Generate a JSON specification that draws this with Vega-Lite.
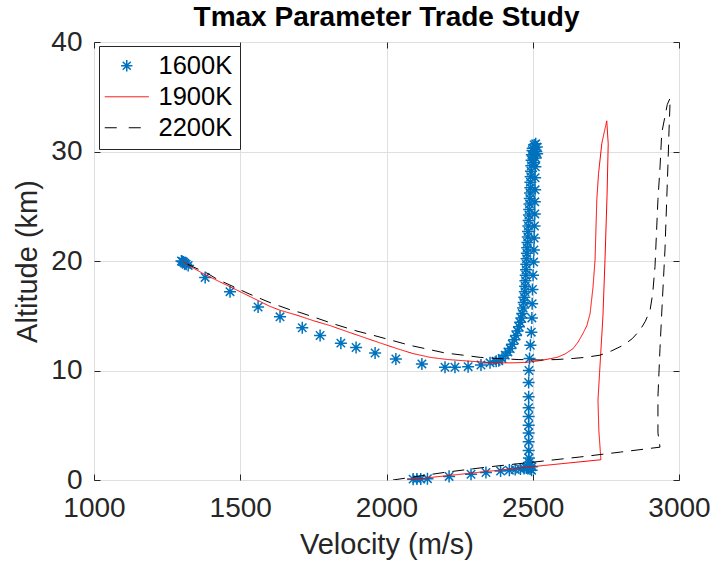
{
  "$schema": "https://vega.github.io/schema/vega-lite/v6.json",
  "width": 585,
  "height": 438,
  "autosize": {"type": "none"},
  "padding": {"left": 94, "top": 42, "right": 34, "bottom": 86},
  "background": "white",
  "title": {
    "text": "Tmax Parameter Trade Study",
    "font": "Liberation Sans",
    "fontSize": 28,
    "fontWeight": "bold",
    "color": "#000000",
    "anchor": "middle",
    "frame": "group",
    "baseline": "alphabetic",
    "offset": -1,
    "dy": 25
  },
  "config": {
    "view": {"stroke": "#262626", "strokeWidth": 1},
    "axis": {
      "labelFont": "Liberation Sans",
      "labelFontSize": 28,
      "labelColor": "#262626",
      "labelFlush": false,
      "titleFont": "Liberation Sans",
      "titleFontSize": 29,
      "titleFontWeight": "normal",
      "titleColor": "#262626",
      "gridColor": "#dfdfdf",
      "gridWidth": 1,
      "tickColor": "#262626",
      "tickSize": -6,
      "domain": false,
      "format": "d"
    }
  },
  "datasets": {
    "t1600": [
      {"v": 2091, "a": 0.08}, {"v": 2104, "a": 0.1}, {"v": 2117, "a": 0.1}, {"v": 2140, "a": 0.12},
      {"v": 2214, "a": 0.33}, {"v": 2289, "a": 0.53}, {"v": 2340, "a": 0.68}, {"v": 2390, "a": 0.82},
      {"v": 2420, "a": 0.9}, {"v": 2440, "a": 0.95}, {"v": 2458, "a": 1.0}, {"v": 2470, "a": 1.05},
      {"v": 2478, "a": 1.1}, {"v": 2485, "a": 1.15}, {"v": 2491, "a": 1.0}, {"v": 2496, "a": 0.9},
      {"v": 2497, "a": 1.2}, {"v": 2489, "a": 1.3},
      {"v": 2487, "a": 1.6}, {"v": 2487, "a": 2.0}, {"v": 2486, "a": 2.7}, {"v": 2486, "a": 3.5},
      {"v": 2486, "a": 4.3}, {"v": 2486, "a": 5.0}, {"v": 2486, "a": 5.8}, {"v": 2486, "a": 6.6},
      {"v": 2486, "a": 7.6}, {"v": 2486, "a": 8.9}, {"v": 2487, "a": 10.0}, {"v": 2489, "a": 11.1},
      {"v": 2492, "a": 12.3}, {"v": 2495, "a": 13.5}, {"v": 2497, "a": 14.8}, {"v": 2498, "a": 16.1},
      {"v": 2499, "a": 17.4}, {"v": 2501, "a": 18.7}, {"v": 2503, "a": 19.9}, {"v": 2504, "a": 21.0},
      {"v": 2505, "a": 22.1}, {"v": 2506, "a": 23.2}, {"v": 2507, "a": 24.3}, {"v": 2507, "a": 25.4},
      {"v": 2508, "a": 26.5}, {"v": 2508, "a": 27.6}, {"v": 2509, "a": 28.6}, {"v": 2510, "a": 29.4},
      {"v": 2512, "a": 30.0}, {"v": 2514, "a": 30.4},
      {"v": 2510, "a": 30.7}, {"v": 2505, "a": 30.6}, {"v": 2500, "a": 30.3}, {"v": 2515, "a": 29.8},
      {"v": 2505, "a": 29.0}, {"v": 2500, "a": 29.6},
      {"v": 2499, "a": 30.1}, {"v": 2497, "a": 29.7}, {"v": 2496, "a": 29.2}, {"v": 2495, "a": 28.7},
      {"v": 2494, "a": 28.2}, {"v": 2493, "a": 27.7}, {"v": 2492, "a": 27.2}, {"v": 2492, "a": 26.7},
      {"v": 2491, "a": 26.2}, {"v": 2490, "a": 25.7}, {"v": 2489, "a": 25.2}, {"v": 2488, "a": 24.7},
      {"v": 2487, "a": 24.2}, {"v": 2486, "a": 23.7}, {"v": 2485, "a": 23.2}, {"v": 2484, "a": 22.7},
      {"v": 2483, "a": 22.2}, {"v": 2482, "a": 21.7}, {"v": 2481, "a": 21.2}, {"v": 2480, "a": 20.7},
      {"v": 2479, "a": 20.2}, {"v": 2478, "a": 19.7}, {"v": 2477, "a": 19.2}, {"v": 2476, "a": 18.7},
      {"v": 2475, "a": 18.2}, {"v": 2474, "a": 17.7}, {"v": 2473, "a": 17.2}, {"v": 2471, "a": 16.7},
      {"v": 2469, "a": 16.2}, {"v": 2467, "a": 15.7}, {"v": 2464, "a": 15.2}, {"v": 2461, "a": 14.8},
      {"v": 2457, "a": 14.4}, {"v": 2453, "a": 14.0}, {"v": 2448, "a": 13.6}, {"v": 2443, "a": 13.2},
      {"v": 2437, "a": 12.8}, {"v": 2430, "a": 12.4}, {"v": 2423, "a": 12.0}, {"v": 2415, "a": 11.7},
      {"v": 2406, "a": 11.4}, {"v": 2395, "a": 11.1}, {"v": 2384, "a": 10.9},
      {"v": 2375, "a": 10.85}, {"v": 2354, "a": 10.7}, {"v": 2323, "a": 10.5}, {"v": 2279, "a": 10.35},
      {"v": 2234, "a": 10.3}, {"v": 2200, "a": 10.3}, {"v": 2121, "a": 10.6}, {"v": 2032, "a": 11.05},
      {"v": 1961, "a": 11.6}, {"v": 1896, "a": 12.1}, {"v": 1844, "a": 12.5}, {"v": 1773, "a": 13.2},
      {"v": 1712, "a": 13.9}, {"v": 1636, "a": 14.9}, {"v": 1561, "a": 15.8}, {"v": 1465, "a": 17.2},
      {"v": 1380, "a": 18.5}, {"v": 1322, "a": 19.6}, {"v": 1315, "a": 19.7}, {"v": 1310, "a": 19.8},
      {"v": 1306, "a": 19.9}, {"v": 1302, "a": 19.95}, {"v": 1299, "a": 20.0}
    ],
    "lines": [
      {"s": "1900K", "k": 1, "v": 2070, "a": 0},
      {"s": "1900K", "k": 2, "v": 2300, "a": 0.66},
      {"s": "1900K", "k": 3, "v": 2491, "a": 1.2},
      {"s": "1900K", "k": 4, "v": 2733, "a": 1.85},
      {"s": "1900K", "k": 5, "v": 2726, "a": 4.5},
      {"s": "1900K", "k": 6, "v": 2723, "a": 7.3},
      {"s": "1900K", "k": 7, "v": 2740, "a": 15.0},
      {"s": "1900K", "k": 8, "v": 2747, "a": 20.1},
      {"s": "1900K", "k": 9, "v": 2754, "a": 26.0},
      {"s": "1900K", "k": 10, "v": 2758, "a": 30.7},
      {"s": "1900K", "k": 11, "v": 2753, "a": 32.8},
      {"s": "1900K", "k": 12, "v": 2739, "a": 31.1},
      {"s": "1900K", "k": 13, "v": 2736, "a": 30.7},
      {"s": "1900K", "k": 14, "v": 2725, "a": 28.0},
      {"s": "1900K", "k": 15, "v": 2719, "a": 25.6},
      {"s": "1900K", "k": 16, "v": 2713, "a": 20.1},
      {"s": "1900K", "k": 17, "v": 2706, "a": 17.6},
      {"s": "1900K", "k": 18, "v": 2696, "a": 15.2},
      {"s": "1900K", "k": 19, "v": 2685, "a": 14.1},
      {"s": "1900K", "k": 20, "v": 2672, "a": 13.4},
      {"s": "1900K", "k": 21, "v": 2655, "a": 12.6},
      {"s": "1900K", "k": 22, "v": 2638, "a": 12.0},
      {"s": "1900K", "k": 23, "v": 2610, "a": 11.5},
      {"s": "1900K", "k": 24, "v": 2583, "a": 11.2},
      {"s": "1900K", "k": 25, "v": 2525, "a": 10.9},
      {"s": "1900K", "k": 26, "v": 2480, "a": 10.75},
      {"s": "1900K", "k": 27, "v": 2433, "a": 10.7},
      {"s": "1900K", "k": 28, "v": 2364, "a": 10.7},
      {"s": "1900K", "k": 29, "v": 2275, "a": 10.87},
      {"s": "1900K", "k": 30, "v": 2210, "a": 11.0},
      {"s": "1900K", "k": 31, "v": 2149, "a": 11.2},
      {"s": "1900K", "k": 32, "v": 2090, "a": 11.55},
      {"s": "1900K", "k": 33, "v": 2036, "a": 12.0},
      {"s": "1900K", "k": 34, "v": 1980, "a": 12.5},
      {"s": "1900K", "k": 35, "v": 1920, "a": 13.05},
      {"s": "1900K", "k": 36, "v": 1860, "a": 13.6},
      {"s": "1900K", "k": 37, "v": 1807, "a": 14.1},
      {"s": "1900K", "k": 38, "v": 1750, "a": 14.55},
      {"s": "1900K", "k": 39, "v": 1694, "a": 15.05},
      {"s": "1900K", "k": 40, "v": 1636, "a": 15.5},
      {"s": "1900K", "k": 41, "v": 1602, "a": 15.85},
      {"s": "1900K", "k": 42, "v": 1545, "a": 16.6},
      {"s": "1900K", "k": 43, "v": 1488, "a": 17.35},
      {"s": "1900K", "k": 44, "v": 1430, "a": 18.1},
      {"s": "1900K", "k": 45, "v": 1373, "a": 18.85},
      {"s": "1900K", "k": 46, "v": 1330, "a": 19.5},
      {"s": "1900K", "k": 47, "v": 1301, "a": 20.0},
      {"s": "2200K", "k": 1, "v": 2022, "a": 0},
      {"s": "2200K", "k": 2, "v": 2200, "a": 0.7},
      {"s": "2200K", "k": 3, "v": 2350, "a": 1.2},
      {"s": "2200K", "k": 4, "v": 2491, "a": 1.6},
      {"s": "2200K", "k": 5, "v": 2661, "a": 2.1},
      {"s": "2200K", "k": 6, "v": 2800, "a": 2.55},
      {"s": "2200K", "k": 7, "v": 2935, "a": 3.0},
      {"s": "2200K", "k": 8, "v": 2928, "a": 4.3},
      {"s": "2200K", "k": 9, "v": 2928, "a": 7.6},
      {"s": "2200K", "k": 10, "v": 2935, "a": 12.0},
      {"s": "2200K", "k": 11, "v": 2942, "a": 15.8},
      {"s": "2200K", "k": 12, "v": 2952, "a": 21.0},
      {"s": "2200K", "k": 13, "v": 2962, "a": 28.6},
      {"s": "2200K", "k": 14, "v": 2966, "a": 32.0},
      {"s": "2200K", "k": 15, "v": 2970, "a": 34.9},
      {"s": "2200K", "k": 16, "v": 2960, "a": 34.3},
      {"s": "2200K", "k": 17, "v": 2952, "a": 33.2},
      {"s": "2200K", "k": 18, "v": 2941, "a": 31.7},
      {"s": "2200K", "k": 19, "v": 2935, "a": 28.5},
      {"s": "2200K", "k": 20, "v": 2928, "a": 25.6},
      {"s": "2200K", "k": 21, "v": 2918, "a": 19.5},
      {"s": "2200K", "k": 22, "v": 2910, "a": 17.0},
      {"s": "2200K", "k": 23, "v": 2901, "a": 15.5},
      {"s": "2200K", "k": 24, "v": 2885, "a": 14.5},
      {"s": "2200K", "k": 25, "v": 2867, "a": 13.7},
      {"s": "2200K", "k": 26, "v": 2840, "a": 12.9},
      {"s": "2200K", "k": 27, "v": 2809, "a": 12.3},
      {"s": "2200K", "k": 28, "v": 2770, "a": 11.8},
      {"s": "2200K", "k": 29, "v": 2730, "a": 11.4},
      {"s": "2200K", "k": 30, "v": 2680, "a": 11.2},
      {"s": "2200K", "k": 31, "v": 2638, "a": 11.1},
      {"s": "2200K", "k": 32, "v": 2580, "a": 11.0},
      {"s": "2200K", "k": 33, "v": 2525, "a": 10.96},
      {"s": "2200K", "k": 34, "v": 2450, "a": 11.0},
      {"s": "2200K", "k": 35, "v": 2378, "a": 11.1},
      {"s": "2200K", "k": 36, "v": 2320, "a": 11.2},
      {"s": "2200K", "k": 37, "v": 2262, "a": 11.4},
      {"s": "2200K", "k": 38, "v": 2200, "a": 11.6},
      {"s": "2200K", "k": 39, "v": 2149, "a": 11.9},
      {"s": "2200K", "k": 40, "v": 2080, "a": 12.3},
      {"s": "2200K", "k": 41, "v": 2012, "a": 12.8},
      {"s": "2200K", "k": 42, "v": 1950, "a": 13.25},
      {"s": "2200K", "k": 43, "v": 1899, "a": 13.6},
      {"s": "2200K", "k": 44, "v": 1820, "a": 14.25},
      {"s": "2200K", "k": 45, "v": 1749, "a": 14.9},
      {"s": "2200K", "k": 46, "v": 1704, "a": 15.3},
      {"s": "2200K", "k": 47, "v": 1670, "a": 15.55},
      {"s": "2200K", "k": 48, "v": 1602, "a": 16.2},
      {"s": "2200K", "k": 49, "v": 1530, "a": 17.0},
      {"s": "2200K", "k": 50, "v": 1465, "a": 17.8},
      {"s": "2200K", "k": 51, "v": 1420, "a": 18.35},
      {"s": "2200K", "k": 52, "v": 1386, "a": 18.9},
      {"s": "2200K", "k": 53, "v": 1340, "a": 19.45},
      {"s": "2200K", "k": 54, "v": 1304, "a": 19.9}
    ]
  },
  "layer": [
    {
      "data": {"name": "t1600"},
      "mark": {
        "type": "point",
        "shape": "M-1,0L1,0M0,-1L0,1M-0.7,-0.7L0.7,0.7M-0.7,0.7L0.7,-0.7",
        "filled": false,
        "size": 145,
        "strokeWidth": 1.5,
        "opacity": 1,
        "color": "#0072BD"
      },
      "encoding": {
        "x": {
          "field": "v", "type": "quantitative",
          "scale": {"domain": [1000, 3000], "nice": false, "zero": false},
          "axis": {"values": [1000, 1500, 2000, 2500, 3000], "title": "Velocity (m/s)", "labelPadding": 20, "titlePadding": 8, "grid": true}
        },
        "y": {
          "field": "a", "type": "quantitative",
          "scale": {"domain": [0, 40], "nice": false, "zero": false},
          "axis": {"values": [0, 10, 20, 30, 40], "title": "Altitude (km)", "labelPadding": 18, "titlePadding": 8, "grid": true}
        }
      }
    },
    {
      "data": {"name": "lines"},
      "mark": {"type": "line", "strokeWidth": 1, "clip": true},
      "encoding": {
        "x": {
          "field": "v", "type": "quantitative",
          "axis": {"orient": "top", "values": [1000, 1500, 2000, 2500, 3000], "labels": false, "title": null, "grid": false}
        },
        "y": {
          "field": "a", "type": "quantitative",
          "axis": {"orient": "right", "values": [0, 10, 20, 30, 40], "labels": false, "title": null, "grid": false}
        },
        "color": {
          "field": "s", "type": "nominal",
          "scale": {"domain": ["1600K", "1900K", "2200K"], "range": ["#0072BD", "#FF0000", "#000000"]},
          "legend": {
            "orient": "none",
            "legendX": 5,
            "legendY": 4,
            "title": null,
            "labelFont": "Liberation Sans",
            "labelFontSize": 25.5,
            "labelColor": "#000000",
            "symbolType": "stroke",
            "symbolSize": 1936,
            "symbolStrokeWidth": 1,
            "symbolOffset": 8,
            "strokeColor": "#262626",
            "fillColor": "white",
            "padding": 7,
            "rowPadding": 4,
            "labelOffset": 19,
            "encode": {
              "symbols": {
                "update": {
                  "shape": {"signal": "datum.value === '1600K' ? 'M-1,0L1,0M0,-1L0,1M-0.7,-0.7L0.7,0.7M-0.7,0.7L0.7,-0.7' : 'stroke'"},
                  "size": {"signal": "datum.value === '1600K' ? 130 : 1936"},
                  "stroke": {"signal": "datum.value === '1600K' ? '#0072BD' : datum.value === '1900K' ? '#FF0000' : '#000000'"},
                  "strokeDash": {"signal": "datum.value === '2200K' ? [12, 12] : [1, 0]"},
                  "strokeWidth": {"signal": "datum.value === '1600K' ? 1.5 : 1"},
                  "fill": {"value": "transparent"}
                }
              }
            }
          }
        },
        "strokeDash": {
          "field": "s", "type": "nominal",
          "scale": {"domain": ["1900K", "2200K"], "range": [[1, 0], [12, 8]]},
          "legend": null
        },
        "order": {"field": "k", "type": "quantitative"}
      }
    }
  ],
  "resolve": {"axis": {"x": "independent", "y": "independent"}}
}
